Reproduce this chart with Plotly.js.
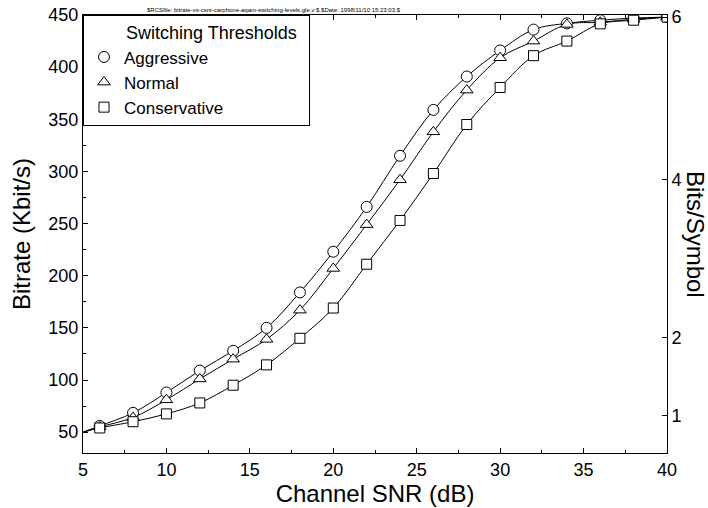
<!DOCTYPE html>
<html>
<head>
<meta charset="utf-8">
<script src="https://cdn.plot.ly/plotly-3.0.1.min.js"></script>
<style>html,body{margin:0;padding:0;background:#fff;}#chart{width:708px;height:508px;}</style>
</head>
<body>
<div id="chart"></div>
<script>
// Channel SNR (dB); first point (5 dB) is the curve start without a marker
const snr = [5, 6, 8, 10, 12, 14, 16, 18, 20, 22, 24, 26, 28, 30, 32, 34, 36, 38, 40];
const aggressive   = [50, 56, 68.5, 88, 109, 128, 150, 184, 223, 266, 315, 359, 391, 416, 436, 442, 445, 447, 448];
const normal       = [50, 55, 64, 81, 101, 120, 139, 167, 207, 249, 292, 338, 378, 409, 425, 441, 443, 446, 448];
const conservative = [50, 54, 60, 67.5, 78, 95, 114.5, 140, 169, 211, 253, 298, 345, 380.5, 411, 425, 441.5, 445, 448];
const seriesNames = ['Aggressive', 'Normal', 'Conservative'];
const seriesSymbols = ['circle', 'triangle-up', 'square'];
const bitsTickVals = [66, 141, 292, 448];
const bitsTickText = ['1', '2', '4', '6'];
const legendTitle = 'Switching Thresholds';
const rcsText = '$RCSfile: bitrate-vs-csnr-carphone-aqam-switching-levels.gle,v $ $Date: 1998/11/10 15:23:03 $';

const FONT = 'Liberation Sans, Arial, Helvetica, sans-serif';
const NB = '\u00a0';
const allSeries = [aggressive, normal, conservative];
const traces = [];
allSeries.forEach((vals, i) => {
  traces.push({
    x: snr, y: vals, type: 'scatter', mode: 'lines',
    line: {color: '#000', width: 1, shape: 'spline', smoothing: 1},
    showlegend: false, hoverinfo: 'skip'
  });
});
allSeries.forEach((vals, i) => {
  traces.push({
    x: snr.slice(1), y: vals.slice(1), type: 'scatter', mode: 'markers',
    name: seriesNames[i],
    marker: {symbol: seriesSymbols[i], size: i === 2 ? 10 : 11, color: '#fff', line: {color: '#000', width: 1}}
  });
});
// invisible trace to activate y2
traces.push({x: [snr[0]], y: [aggressive[0]], yaxis: 'y2', mode: 'markers', marker: {opacity: 0}, showlegend: false, hoverinfo: 'skip'});

const axisCommon = {
  showgrid: false, zeroline: false, showline: true, linecolor: '#000', linewidth: 1,
  ticks: 'inside', ticklen: 5, tickwidth: 1, tickcolor: '#000',
  tickfont: {family: FONT, size: 18, color: '#000'}
};

const layout = {
  width: 708, height: 508,
  margin: {l: 83, r: 41, t: 15, b: 55},
  paper_bgcolor: '#fff', plot_bgcolor: '#fff',
  font: {family: FONT, color: '#000'},
  xaxis: Object.assign({}, axisCommon, {
    range: [5, 40], tick0: 5, dtick: 5, mirror: 'ticks',
    minor: {dtick: 2.5, ticks: 'inside', ticklen: 3, tickcolor: '#000', showgrid: false},
    title: {text: 'Channel SNR (dB)', font: {family: FONT, size: 24, color: '#000'}, standoff: 4}
  }),
  yaxis: Object.assign({}, axisCommon, {
    range: [30, 450], tick0: 50, dtick: 50,
    minor: {dtick: 25, ticks: 'inside', ticklen: 3, tickcolor: '#000', showgrid: false},
    title: {text: 'Bitrate (Kbit/s)', font: {family: FONT, size: 24, color: '#000'}, standoff: 10}
  }),
  yaxis2: Object.assign({}, axisCommon, {
    overlaying: 'y', side: 'right', range: [30, 450],
    tickmode: 'array', tickvals: bitsTickVals, ticktext: bitsTickText
  }),
  legend: {
    x: 0, y: 1, xanchor: 'left', yanchor: 'top',
    bgcolor: '#fff', bordercolor: '#000', borderwidth: 1,
    font: {family: FONT, size: 17, color: '#000'},
    title: {text: NB.repeat(8) + legendTitle + NB.repeat(2), side: 'top', font: {family: FONT, size: 18, color: '#000'}},
    tracegroupgap: 0
  },
  annotations: [
    {text: rcsText, xref: 'paper', yref: 'paper', x: 0.106, y: 1.0114, xanchor: 'left', yanchor: 'middle',
     showarrow: false, font: {family: FONT, size: 6, color: '#000'}},
    {text: 'Bits/Symbol', xref: 'paper', yref: 'paper', x: 1.0497, y: 0.5, xanchor: 'center', yanchor: 'middle',
     textangle: 90, showarrow: false, font: {family: FONT, size: 24, color: '#000'}}
  ]
};

Plotly.newPlot('chart', traces, layout, {displayModeBar: false, staticPlot: true});
</script>
</body>
</html>
